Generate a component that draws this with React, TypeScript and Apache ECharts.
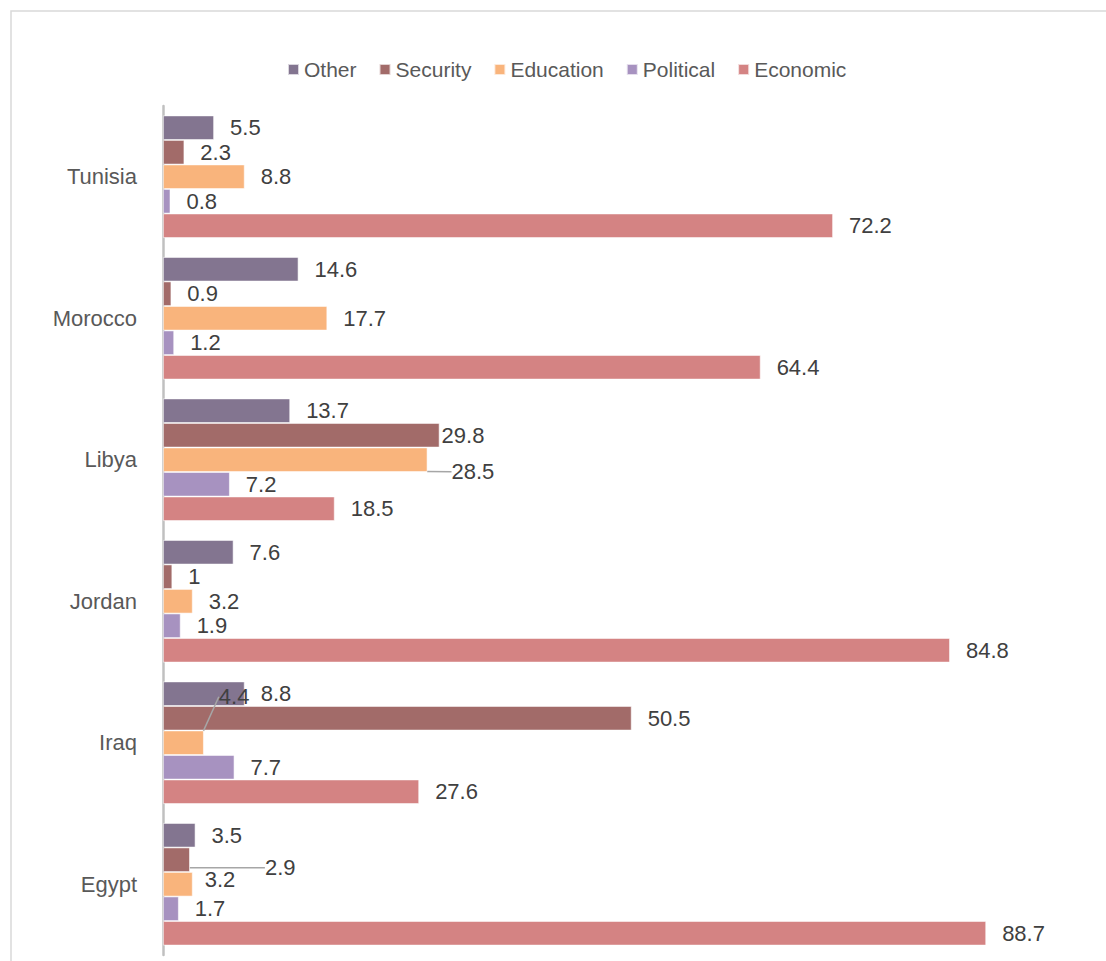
import React, { useEffect, useRef } from "react";
import * as echarts from "echarts";

// Countries listed top-to-bottom as in the chart
const countries = ["Tunisia", "Morocco", "Libya", "Jordan", "Iraq", "Egypt"];
const other = [5.5, 14.6, 13.7, 7.6, 8.8, 3.5];
const security = [2.3, 0.9, 29.8, 1, 50.5, 2.9];
const education = [8.8, 17.7, 28.5, 3.2, 4.4, 3.2];
const political = [0.8, 1.2, 7.2, 1.9, 7.7, 1.7];
const economic = [72.2, 64.4, 18.5, 84.8, 27.6, 88.7];

const legendOrder = ["Other", "Security", "Education", "Political", "Economic"];

// Manual label nudges (dx, dy) keyed by "series|country"; some with leader lines
const labelNudges: Record<string, { dx: number; dy: number; line?: boolean }> = {
  "Security|Libya": { dx: -14, dy: 0 },
  "Education|Libya": { dx: 8, dy: 12, line: true },
  "Education|Iraq": { dx: -1, dy: -46, line: true },
  "Security|Egypt": { dx: 59, dy: 8, line: true },
  "Education|Egypt": { dx: -4, dy: -5 },
};

const colors: Record<string, string> = {
  Other: "#837590",
  Security: "#a26b69",
  Education: "#f9b47c",
  Political: "#a792c0",
  Economic: "#d48383",
};

export default function App() {
  const ref = useRef<HTMLDivElement>(null);
  useEffect(() => {
    if (!ref.current) return;
    const chart = echarts.init(ref.current, undefined, { renderer: "svg" });
    const cats = [...countries].reverse();
    const seriesDefs: [string, number[]][] = [
      ["Other", other],
      ["Security", security],
      ["Education", education],
      ["Political", political],
      ["Economic", economic],
    ];
    const font = "'Liberation Sans', Arial, sans-serif";
    const series = seriesDefs.map(([name, vals]) => ({
      name,
      type: "bar",
      z: name === "Education" ? 4 : name === "Security" ? 3 : 2,
      barGap: "0%",
      barCategoryGap: "13.4%",
      itemStyle: { color: colors[name], borderColor: "rgba(255,255,255,0.7)", borderWidth: 0.8 },
      label: {
        show: true,
        position: "right",
        distance: 16,
        color: "#404040",
        fontSize: 22,
        fontFamily: font,
      },
      labelLine: { show: false },
      data: [...vals].reverse().map((v, i) => {
        const key = name + "|" + cats[i];
        const n = labelNudges[key];
        if (n && n.line) {
          return {
            value: v,
            labelLine: { show: true, lineStyle: { color: "#a6a6a6", width: 1.5 } },
          };
        }
        return { value: v };
      }),
    }));

    chart.setOption({
      animation: false,
      backgroundColor: "#ffffff",
      textStyle: { fontFamily: font },
      graphic: [
        {
          type: "rect",
          shape: { x: 11, y: 11, width: 1130, height: 1000 },
          style: { fill: "none", stroke: "#d9d9d9", lineWidth: 1.5 },
          silent: true,
        },
      ],
      legend: {
        data: legendOrder,
        top: 54,
        left: 282,
        icon: "rect",
        itemWidth: 11,
        itemHeight: 11,
        itemGap: 22,
        textStyle: { color: "#595959", fontSize: 21, fontFamily: font },
      },
      grid: { left: 163, right: 15, top: 106, bottom: 6, containLabel: false },
      xAxis: {
        type: "value",
        min: 0,
        max: 100,
        show: false,
      },
      yAxis: {
        type: "category",
        data: cats,
        axisLine: { show: true, lineStyle: { color: "#c0c0c0", width: 2.5 } },
        axisTick: { show: false },
        axisLabel: { color: "#595959", fontSize: 22, fontFamily: font, margin: 26 },
      },
      labelLayout: (params: any) => {
        const name = seriesDefs[params.seriesIndex][0];
        const country = cats[params.dataIndex];
        const n = labelNudges[name + "|" + country];
        if (n) return { dx: n.dx, dy: n.dy };
        return {};
      },
      series,
    });
    return () => chart.dispose();
  }, []);
  return (
    <div
      ref={ref}
      style={{ position: "absolute", left: 0, top: 0, width: 1106, height: 961 }}
    />
  );
}
